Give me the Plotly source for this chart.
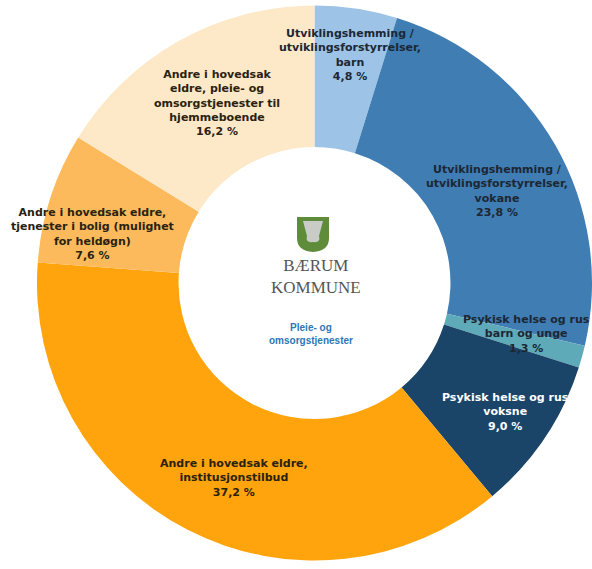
import plotly.graph_objects as go

W, H = 592, 569

categories = [
    "Utviklingshemming / utviklingsforstyrrelser, barn",
    "Utviklingshemming / utviklingsforstyrrelser, vokane",
    "Psykisk helse og rus barn og unge",
    "Psykisk helse og rus voksne",
    "Andre i hovedsak eldre, institusjonstilbud",
    "Andre i hovedsak eldre, tjenester i bolig (mulighet for heldøgn)",
    "Andre i hovedsak eldre, pleie- og omsorgstjenester til hjemmeboende",
]
values = [4.8, 23.8, 1.3, 9.0, 37.2, 7.6, 16.2]
label_lines = [
    ["Utviklingshemming /", "utviklingsforstyrrelser,", "barn"],
    ["Utviklingshemming /", "utviklingsforstyrrelser,", "vokane"],
    ["Psykisk helse og rus", "barn og unge"],
    ["Psykisk helse og rus", "voksne"],
    ["Andre i hovedsak eldre,", "institusjonstilbud"],
    ["Andre i hovedsak eldre,", "tjenester i bolig (mulighet", "for heldøgn)"],
    ["Andre i hovedsak", "eldre, pleie- og", "omsorgstjenester til", "hjemmeboende"],
]

colors = ["#9DC3E6", "#3F7DB3", "#5FAAB8", "#1B4469", "#FFA40C", "#FDBA5C", "#FDE8C8"]
text_colors = ["#1c2733", "#1c2733", "#1c2733", "#ffffff", "#2a2210", "#2a2210", "#2a2210"]
# label centre positions in pixels (layout only)
label_pos = [(350, 55), (497, 191), (526, 334), (505, 412), (234, 478), (92, 234), (217, 103)]

cx, cy, R = 315, 283, 278

fig = go.Figure()
fig.add_trace(go.Pie(
    labels=categories,
    values=values,
    sort=False,
    direction="clockwise",
    rotation=0,
    hole=0.49,
    marker=dict(colors=colors, line=dict(width=0)),
    textinfo="none",
    hoverinfo="label+percent",
    showlegend=False,
    domain=dict(x=[(cx - R) / W, min(1, (cx + R) / W)], y=[(H - cy - R) / H, (H - cy + R) / H]),
))

def px(x):
    return x / W

def py(y):
    return 1 - y / H

for lines, v, (x, y), tc in zip(label_lines, values, label_pos, text_colors):
    txt = "<b>" + "<br>".join(lines + [f"{v:.1f} %".replace(".", ",")]) + "</b>"
    fig.add_annotation(x=px(x), y=py(y), xref="paper", yref="paper",
                       text=txt, showarrow=False,
                       font=dict(family="DejaVu Sans, Verdana", size=11, color=tc),
                       align="center", xanchor="center", yanchor="middle")

# logo shield
def pt(x, y):
    return f"{px(x):.5f},{py(y):.5f}"

shield = ("M " + pt(297, 217) + " L " + pt(329, 217) + " L " + pt(329, 238) +
          " Q " + pt(329, 251) + " " + pt(313, 252) + " Q " + pt(297, 251) + " " + pt(297, 238) + " Z")
fig.add_shape(type="path", path=shield, xref="paper", yref="paper",
              fillcolor="#5E8C3A", line=dict(width=0))
inner = ("M " + pt(303, 221) + " L " + pt(323, 221) + " L " + pt(319, 236) +
         " Q " + pt(321, 243) + " " + pt(313, 242) + " Q " + pt(305, 243) + " " + pt(307, 236) + " Z")
fig.add_shape(type="path", path=inner, xref="paper", yref="paper",
              fillcolor="#C9CCC6", line=dict(width=0))

fig.add_annotation(x=px(316), y=py(277), xref="paper", yref="paper",
                   text="BÆRUM<br>KOMMUNE", showarrow=False,
                   font=dict(family="Liberation Serif, Times New Roman", size=17, color="#555555"),
                   align="center", xanchor="center", yanchor="middle")
fig.add_annotation(x=px(311), y=py(334), xref="paper", yref="paper",
                   text="<b>Pleie- og<br>omsorgstjenester</b>", showarrow=False,
                   font=dict(family="Liberation Sans, Arial", size=10, color="#2E75B6"),
                   align="center", xanchor="center", yanchor="middle")

fig.update_layout(width=W, height=H, margin=dict(l=0, r=0, t=0, b=0),
                  paper_bgcolor="white", plot_bgcolor="white")
fig.write_html("out.html", config={"displayModeBar": False},
               post_script="document.body.style.margin='0';")
